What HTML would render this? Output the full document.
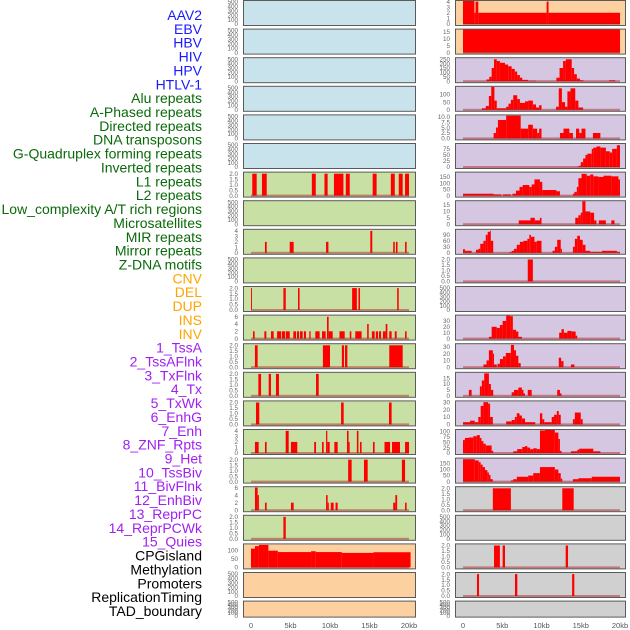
<!DOCTYPE html>
<html><head><meta charset="utf-8"><style>
html,body{margin:0;padding:0;background:#fff;}
svg{display:block;font-family:"Liberation Sans",sans-serif;}
</style></head><body>
<svg id="chart" width="630" height="630" viewBox="0 0 630 630"></svg>
<script>
const labels = ["AAV2","EBV","HBV","HIV","HPV","HTLV-1","Alu repeats","A-Phased repeats","Directed repeats","DNA transposons","G-Quadruplex forming repeats","Inverted repeats","L1 repeats","L2 repeats","Low_complexity A/T rich regions","Microsatellites","MIR repeats","Mirror repeats","Z-DNA motifs","CNV","DEL","DUP","INS","INV","1_TssA","2_TssAFlnk","3_TxFlnk","4_Tx","5_TxWk","6_EnhG","7_Enh","8_ZNF_Rpts","9_Het","10_TssBiv","11_BivFlnk","12_EnhBiv","13_ReprPC","14_ReprPCWk","15_Quies","CPGisland","Methylation","Promoters","ReplicationTiming","TAD_boundary"];
const labelColors = ["#1a1aff","#1a1aff","#1a1aff","#1a1aff","#1a1aff","#1a1aff","#0a6a0a","#0a6a0a","#0a6a0a","#0a6a0a","#0a6a0a","#0a6a0a","#0a6a0a","#0a6a0a","#0a6a0a","#0a6a0a","#0a6a0a","#0a6a0a","#0a6a0a","#ffa500","#ffa500","#ffa500","#ffa500","#ffa500","#a020f0","#a020f0","#a020f0","#a020f0","#a020f0","#a020f0","#a020f0","#a020f0","#a020f0","#a020f0","#a020f0","#a020f0","#a020f0","#a020f0","#a020f0","#000","#000","#000","#000","#000"];
const xTicks = [0,5,10,15,20];
const xTickLabels = ["0","5kb","10kb","15kb","20kb"];

// panel background categories
const leftBg = ["b","b","b","b","b","b","g","g","g","g","g","g","g","g","g","g","g","g","g","o","o","o"];
const rightBg = ["o","o","p","p","p","p","p","p","p","p","p","p","p","p","p","p","p","y","y","y","y","y"];
// axis maxima
const leftMax = [520,520,520,520,520,520,2.1,520,4.2,520,2.1,6.3,2.1,2.1,2.1,4.15,2.1,6.1,2.1,135,520,520];
const rightMax = [4.1,16.4,262,150,10.6,95,185,18,115,2.1,520,39,34,19.5,31,107,190,2.1,520,2.1,2.1,520];
// tick labels
const E=[0,100,200,300,400,500], T2=[0,0.5,1,1.5,2];
const leftTicks = [E,E,E,E,E,E,T2,E,[0,1,2,3,4],E,T2,[0,2,4,6],T2,T2,T2,[0,1,2,3,4],T2,[0,2,4,6],T2,[0,50,100],E,E];
const rightTicks = [[0,1,2,3,4],[0,5,10,15],[0,50,100,150,200,250],[0,50,100],[0,2.5,5,7.5,10],[0,25,50,75],[0,50,100,150],[0,5,10,15],[0,30,60,90],T2,E,[0,10,20,30],[0,10,20,30],[0,5,10,15],[0,10,20,30],[0,25,50,75,100],[0,50,100,150],T2,E,T2,T2,E];
const rightTickDec = [0,0,0,0,1,0,0,0,0,1,0,0,0,0,0,0,0,1,0,1,1,0];
const leftTickDec = [0,0,0,0,0,0,1,0,0,0,1,0,1,1,1,0,1,0,1,0,0,0];

// series: [startKb, endKb, value]
const leftSeries = [
 [],[],[],[],[],[],
 [[0.16,0.72,2],[1.39,1.99,2],[7.7,8.2,2],[9.3,9.7,2],[10.5,11.7,2],[12.0,12.5,2],[15.4,15.9,2],[17.7,18.2,2],[18.7,19.2,2],[19.5,20.0,2]],
 [],
 [[1.77,1.99,2],[4.9,5.4,2],[9.5,9.8,2],[15.1,15.35,4],[18.0,18.2,2],[18.35,18.55,2],[19.5,19.7,2]],
 [],
 [[0,0.12,2],[4.1,4.4,2],[5.95,6.15,2],[12.8,13.4,2],[13.6,13.8,2],[18.5,18.7,2]],
 [[0.25,0.46,2],[1.69,1.94,2],[2.53,2.87,2],[3.3,3.8,2],[3.9,4.3,2],[4.4,4.9,2],[5.36,5.7,2],[5.82,6.08,2],[6.2,6.54,2],[6.7,6.96,2],[7.38,7.55,2],[8.14,8.69,2],[8.99,9.45,2],[9.62,9.83,6],[9.83,10.34,2],[11.2,11.86,2],[12.5,12.7,2],[13.2,14.0,2],[14.7,14.9,4],[15.3,15.65,2],[15.8,16.08,2],[16.2,16.46,2],[16.7,17.05,2],[17.05,17.26,4],[17.5,17.8,2],[18.2,18.44,2],[19.5,19.7,2]],
 [[0.5,0.84,2],[9.1,10.0,2],[11.5,11.77,2],[11.9,12.2,2],[17.5,19.2,2]],
 [[0.93,1.27,2],[2.24,2.53,2],[3.16,3.54,2],[8.23,8.57,2]],
 [[0.63,1.05,2],[11.4,11.73,2],[17.47,17.8,2]],
 [[0.5,0.97,2],[1.77,1.98,2],[4.39,4.77,4],[5.06,5.86,2],[8.0,8.23,2],[8.99,9.2,2],[9.5,9.66,4],[9.66,9.96,2],[10.55,10.97,2],[12.15,12.35,4],[12.35,12.49,2],[13.4,13.6,4],[13.8,14.0,2],[15.44,15.65,2],[16.9,17.6,2],[17.85,18.86,2],[19.5,20.0,2]],
 [[12.3,12.74,2],[14.3,14.77,2],[19.1,19.5,2]],
 [[0.5,0.84,6],[0.84,1.0,4],[1.77,1.98,2],[5.06,5.4,2],[9.5,9.7,4],[9.7,9.85,2],[10.1,10.46,2],[10.7,10.97,2],[18.0,18.27,2],[18.27,18.5,4],[19.5,19.7,2]],
 [[4.1,4.4,2]],
 [[0,0.5,110],[0.5,1.0,125],[1.0,2.2,132],[2.2,3.4,98],[3.4,7.6,90],[7.6,8.2,95],[8.2,11.5,90],[11.5,15.5,85],[15.5,20.2,89]],
 [],[]
];
const rightSeries = [
 [[0,1.45,5],[1.45,1.6,2],[1.6,1.95,4],[1.95,10.65,2],[10.65,10.9,4],[10.9,20.0,2]],
 [[0,20.0,20]],
 [[3.0,3.35,20],[3.35,3.65,50],[3.65,3.95,150],[3.95,4.3,250],[4.3,4.7,230],[4.7,5.35,210],[5.35,5.75,190],[5.75,6.2,170],[6.2,6.6,140],[6.6,6.9,110],[6.9,7.25,70],[7.25,7.55,40],[7.55,8.3,15],[8.3,9.3,5],[11.9,12.3,40],[12.3,12.75,150],[12.75,13.1,230],[13.1,13.85,250],[13.85,14.15,150],[14.15,14.5,80],[14.5,14.9,30],[14.9,15.35,10],[18.6,19.4,10]],
 [[2.4,2.9,10],[2.9,3.3,25],[3.3,3.6,90],[3.6,4.0,150],[4.0,4.3,60],[4.3,5.5,10],[5.5,5.8,20],[5.8,6.1,40],[6.1,6.4,65],[6.4,6.9,95],[6.9,7.25,70],[7.25,7.9,45],[7.9,8.3,55],[8.3,8.9,60],[8.9,9.3,35],[9.3,9.7,15],[9.7,10.0,30],[11.85,12.2,20],[12.2,12.6,140],[12.6,13.0,50],[13.0,13.3,20],[13.3,13.7,120],[13.7,14.3,140],[14.3,14.7,60],[14.7,15.3,15]],
 [[3.9,4.2,2.5],[4.2,4.45,5],[4.45,5.5,8.5],[5.5,7.35,10.5],[7.35,8.3,4.5],[8.3,8.9,6.3],[8.9,9.45,4.5],[9.45,9.7,2.5],[9.7,10.0,4.5],[12.35,12.8,2.5],[12.8,13.55,4.5],[13.55,14.0,2.5],[14.4,14.8,4.5],[14.8,15.1,2.5],[15.1,15.6,4.5],[16.55,17.5,2.5]],
 [[14.7,15.0,5],[15.0,15.3,20],[15.3,15.6,35],[15.6,15.85,50],[15.85,16.4,55],[16.4,16.6,75],[16.6,17.0,80],[17.0,17.5,85],[17.5,18.2,80],[18.2,18.7,65],[18.7,19.0,60],[19.0,19.6,75],[19.6,20.0,90]],
 [[0,3.9,15],[3.9,4.9,10],[5.1,6.1,10],[6.3,6.75,15],[6.75,7.2,40],[7.2,7.6,70],[7.6,8.45,85],[8.45,8.75,70],[8.75,9.1,90],[9.1,9.8,130],[9.8,10.1,110],[10.1,11.9,45],[11.9,12.35,35],[14.0,14.2,15],[14.2,14.5,30],[14.5,14.7,70],[14.7,15.1,140],[15.1,15.75,175],[15.75,16.2,160],[16.2,16.6,170],[16.6,17.25,155],[17.25,17.9,150],[17.9,18.9,160],[18.9,19.8,155],[19.8,20.0,130]],
 [[7.1,8.6,3],[8.6,9.15,5],[9.15,9.8,3],[9.8,10.0,5],[14.3,14.7,5],[14.7,15.0,7],[15.0,15.2,9],[15.2,15.6,18],[15.6,16.2,10],[16.2,16.7,9],[16.7,17.0,3],[17.3,18.2,3],[18.9,19.3,3]],
 [[0,0.25,18],[0.25,1.1,10],[1.65,1.95,15],[1.95,2.2,20],[2.2,2.6,45],[2.6,2.9,60],[2.9,3.15,90],[3.15,3.45,105],[3.45,3.5,110],[3.5,3.85,60],[5.85,6.2,3],[6.2,6.5,10],[6.5,6.85,20],[6.85,7.25,40],[7.25,7.7,55],[7.7,8.2,60],[8.2,8.45,70],[8.45,8.65,90],[8.65,9.1,80],[9.1,9.4,55],[9.4,10.0,60],[11.4,11.7,10],[11.7,12.0,30],[12.0,12.45,65],[12.45,12.6,20],[14.0,14.25,30],[14.25,14.55,70],[14.55,14.9,85],[14.9,15.25,65],[15.25,15.6,40],[15.6,16.2,10],[16.2,17.7,5],[17.7,19.6,10],[19.6,20.0,5]],
 [[8.25,8.9,2]],
 [],
 [[3.3,3.65,3],[3.65,4.3,20],[4.3,4.7,18],[4.7,5.05,23],[5.05,5.5,30],[5.5,6.0,39],[6.0,6.35,38],[6.35,6.75,15],[6.75,7.05,12],[7.05,7.5,3],[12.25,12.55,10],[12.55,12.85,16],[12.85,13.3,10],[13.3,13.85,13],[13.85,14.35,12],[14.35,14.55,5]],
 [[2.6,3.0,4],[3.0,3.3,10],[3.3,3.8,25],[3.8,3.95,20],[3.95,4.3,4],[4.4,4.7,5],[4.7,5.1,12],[5.1,5.45,16],[5.45,6.1,21],[6.1,6.5,33],[6.5,6.75,25],[6.75,7.05,17],[7.05,7.35,6],[12.2,12.5,14],[12.5,12.8,9],[13.75,14.2,4]],
 [[0.75,1.1,5],[2.15,2.4,8],[2.4,2.7,13],[2.7,3.3,19],[3.3,3.55,10],[3.55,3.85,5],[6.2,6.5,3],[6.5,7.05,5],[7.05,7.5,7],[7.5,7.7,5],[7.7,7.9,2],[8.25,8.75,5],[12.0,12.35,5],[12.35,12.55,2]],
 [[0,0.9,3],[0.9,1.5,5],[1.5,1.95,3],[1.95,2.25,10],[2.25,2.6,25],[2.6,3.2,30],[3.2,3.45,28],[3.45,3.8,10],[5.5,6.2,4],[6.2,6.6,6],[6.6,6.85,10],[6.85,7.2,15],[7.2,7.5,12],[7.5,7.9,8],[7.9,9.2,3],[9.8,10.1,15],[10.1,10.35,7],[10.35,11.3,3],[11.3,11.6,10],[11.6,11.95,13],[11.95,12.2,18],[12.2,12.45,13],[14.0,14.25,7],[14.25,15.0,16],[15.0,15.25,7]],
 [[0,0.25,60],[0.25,0.7,70],[0.7,1.3,72],[1.3,1.75,78],[1.75,2.15,83],[2.15,2.35,70],[2.35,2.6,55],[2.6,2.9,43],[2.9,3.65,35],[3.65,3.85,10],[6.4,6.9,8],[6.9,7.55,18],[7.55,7.9,28],[7.9,8.2,32],[8.2,8.55,25],[8.55,8.95,18],[8.95,9.4,22],[9.4,9.8,18],[9.8,10.45,105],[10.45,11.7,108],[11.7,12.15,95],[12.15,12.35,65],[12.35,12.55,10],[13.75,14.55,8],[14.55,14.8,15],[14.8,16.6,20],[16.6,17.5,8]],
 [[0,1.5,185],[1.5,2.0,175],[2.0,2.25,160],[2.25,2.5,140],[2.5,2.8,120],[2.8,3.1,95],[3.1,3.3,75],[3.3,3.5,55],[3.5,3.8,20],[6.1,6.4,10],[6.4,6.85,20],[6.85,8.3,40],[8.3,8.95,50],[8.95,9.8,70],[9.8,11.7,120],[11.7,12.15,100],[12.15,12.45,70],[12.45,12.65,25],[14.0,14.7,20],[14.7,16.4,28],[16.4,20.0,40]],
 [[3.8,6.1,2],[12.65,14.1,2]],
 [],
 [[3.95,4.7,2],[5.05,5.35,2],[13.08,13.38,2]],
 [[1.78,2.04,2],[6.62,6.92,2],[13.9,14.18,2]],
 []
];

const bgColors = {b:"#c8e3ec",g:"#c8e0a4",o:"#fdd09f",p:"#d5c6e2",y:"#d0d0d0"};
const NS = "http://www.w3.org/2000/svg";
const svg = document.getElementById("chart");
function mk(tag, attrs, parent){const e=document.createElementNS(NS,tag);for(const k in attrs)e.setAttribute(k,attrs[k]);(parent||svg).appendChild(e);return e;}

// labels
labels.forEach((t,i)=>{
  const el = mk("text",{x:202,y:20+13.86*i,"text-anchor":"end","font-size":"14",fill:labelColors[i]});
  
  
  el.textContent = t;
});

const cols = [
  {x0:243,x1:416,zero:251,scale:7.9,tickX:238,bg:leftBg,max:leftMax,ticks:leftTicks,dec:leftTickDec,series:leftSeries,name:'left'},
  {x0:455,x1:626,zero:463,scale:7.85,tickX:450,bg:rightBg,max:rightMax,ticks:rightTicks,dec:rightTickDec,series:rightSeries,name:'right'}
];
cols.forEach(c=>{
  const xs = kb => c.zero + kb*c.scale;
  for(let i=0;i<22;i++){
    const top = 0.5 + 28.6*i;
    const h = (i===21)?16:25;
    const g = mk("g",{});
    
    
    mk("rect",{x:c.x0,y:top,width:c.x1-c.x0,height:h,fill:bgColors[c.bg[i]]},g);
    const base = top + h - 1.5, ytop = top + 0.5;
    const ys = v => base - (v/c.max[i])*(base-ytop);
    const ser = c.series[i];
    ser.forEach(s=>{
      const yv = Math.max(top, ys(s[2]));
      const r = mk("rect",{x:xs(s[0]),y:yv,width:Math.max(0.8,xs(s[1])-xs(s[0])),height:base-yv,fill:"#ff0000"},g);
      
      
    });
    if(ser.length) mk("rect",{x:xs(0),y:base-1,width:xs(20)-xs(0),height:2,fill:"rgba(170,20,20,0.45)"},g);
    mk("rect",{x:c.x0+0.5,y:top,width:c.x1-c.x0-1,height:h,fill:"none",stroke:"#5a5a5a","stroke-width":1},g);
    c.ticks[i].forEach(t=>{
      const tl = mk("text",{x:c.tickX,y:ys(t)+2.2,"text-anchor":"end","font-size":"6.3",fill:"#666"},g);
      
      
      tl.textContent = c.dec[i] ? t.toFixed(1) : String(t);
    });
  }
  xTicks.forEach((t,k)=>{
    const el = mk("text",{x:xs(t),y:628,"text-anchor":"middle","font-size":"7.5",fill:"#555"});
    
    
    el.textContent = xTickLabels[k];
  });
});
</script>
</body></html>
